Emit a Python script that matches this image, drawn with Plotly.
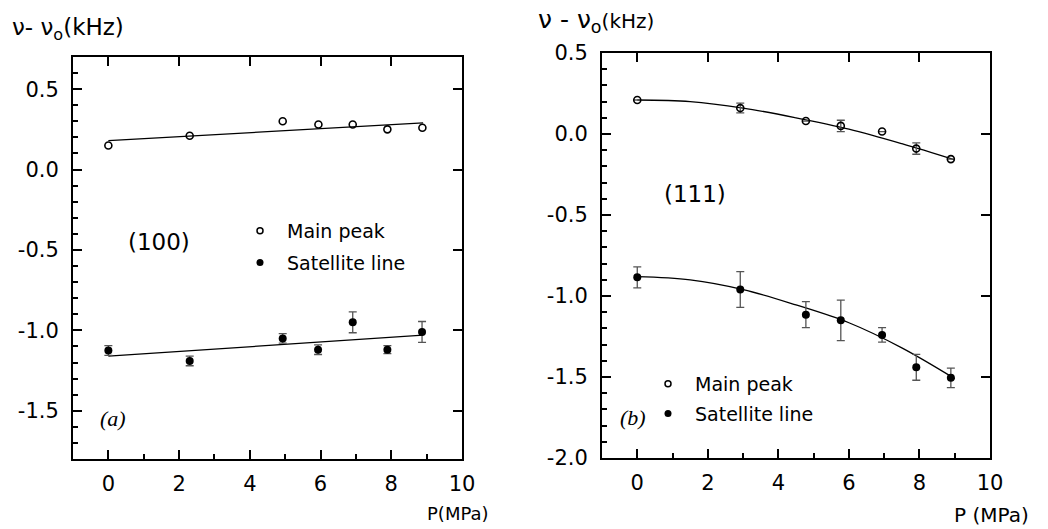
import plotly.graph_objects as go

W, H = 1048, 529

# ---------------- data : panel (a) (100) ----------------
a_main_p = [0.0, 2.3, 4.93, 5.94, 6.91, 7.89, 8.88]
a_main_v = [0.15, 0.21, 0.30, 0.28, 0.28, 0.25, 0.26]
a_sat_p = [0.0, 2.3, 4.93, 5.93, 6.91, 7.89, 8.87]
a_sat_v = [-1.125, -1.19, -1.05, -1.12, -0.95, -1.12, -1.01]
a_sat_err = [0.03, 0.03, 0.03, 0.03, 0.065, 0.025, 0.065]
a_fit_p = [0.0, 8.9]
a_main_fit = [0.18, 0.29]
a_sat_fit = [-1.16, -1.03]

# ---------------- data : panel (b) (111) ----------------
b_main_p = [0.0, 2.92, 4.78, 5.77, 6.94, 7.91, 8.89]
b_main_v = [0.21, 0.16, 0.08, 0.05, 0.015, -0.09, -0.155]
b_main_err = [0.0, 0.03, 0.0, 0.035, 0.0, 0.035, 0.0]
b_sat_p = [0.0, 2.92, 4.78, 5.77, 6.94, 7.91, 8.89]
b_sat_v = [-0.885, -0.96, -1.115, -1.15, -1.24, -1.44, -1.505]
b_sat_err = [0.065, 0.11, 0.08, 0.125, 0.045, 0.08, 0.06]
b_fit_p = [0.0, 1.5, 3.0, 4.5, 6.0, 7.5, 9.0]
b_main_fit = [0.21, 0.20, 0.16, 0.10, 0.03, -0.06, -0.16]
b_sat_fit = [-0.88, -0.90, -0.96, -1.055, -1.165, -1.32, -1.51]

# ---------------- tick labels ----------------
x_ticks = [0, 2, 4, 6, 8, 10]
x_ticktext = ["0", "2", "4", "6", "8", "10"]
a_y_ticks = [0.5, 0.0, -0.5, -1.0, -1.5]
a_y_ticktext = ["0.5", "0.0", "-0.5", "-1.0", "-1.5"]
b_y_ticks = [0.5, 0.0, -0.5, -1.0, -1.5, -2.0]
b_y_ticktext = ["0.5", "0.0", "-0.5", "-1.0", "-1.5", "-2.0"]

FONT = "DejaVu Sans"
TICKFONT = dict(family=FONT, size=21, color="black")

fig = go.Figure()

open_marker = dict(symbol="circle-open", size=7, color="black", line=dict(width=1.6, color="black"))
fill_marker = dict(symbol="circle", size=8, color="black")
err_style = dict(type="data", color="#555555", thickness=1.3, width=4)

# panel a
fig.add_trace(go.Scatter(x=a_fit_p, y=a_main_fit, mode="lines", line=dict(color="black", width=1.3),
                         xaxis="x", yaxis="y", showlegend=False))
fig.add_trace(go.Scatter(x=a_fit_p, y=a_sat_fit, mode="lines", line=dict(color="black", width=1.3),
                         xaxis="x", yaxis="y", showlegend=False))
fig.add_trace(go.Scatter(x=a_main_p, y=a_main_v, mode="markers", marker=open_marker,
                         xaxis="x", yaxis="y", showlegend=False))
fig.add_trace(go.Scatter(x=a_sat_p, y=a_sat_v, mode="markers", marker=fill_marker,
                         error_y=dict(array=a_sat_err, **err_style),
                         xaxis="x", yaxis="y", showlegend=False))
# legend entries panel a
fig.add_trace(go.Scatter(x=[None], y=[None], mode="markers", name="Main peak",
                         marker=dict(symbol="circle-open", size=6, color="black", line=dict(width=1.5)),
                         xaxis="x", yaxis="y", legend="legend", legendgroup="a1"))
fig.add_trace(go.Scatter(x=[None], y=[None], mode="markers", name="Satellite line",
                         marker=dict(symbol="circle", size=7, color="black"),
                         xaxis="x", yaxis="y", legend="legend", legendgroup="a2"))

# panel b
fig.add_trace(go.Scatter(x=b_fit_p, y=b_main_fit, mode="lines", line=dict(color="black", width=1.3, shape="spline"),
                         xaxis="x2", yaxis="y2", showlegend=False))
fig.add_trace(go.Scatter(x=b_fit_p, y=b_sat_fit, mode="lines", line=dict(color="black", width=1.3, shape="spline"),
                         xaxis="x2", yaxis="y2", showlegend=False))
fig.add_trace(go.Scatter(x=b_main_p, y=b_main_v, mode="markers", marker=open_marker,
                         error_y=dict(array=b_main_err, **err_style),
                         xaxis="x2", yaxis="y2", showlegend=False))
fig.add_trace(go.Scatter(x=b_sat_p, y=b_sat_v, mode="markers", marker=fill_marker,
                         error_y=dict(array=b_sat_err, **err_style),
                         xaxis="x2", yaxis="y2", showlegend=False))
fig.add_trace(go.Scatter(x=[None], y=[None], mode="markers", name="Main peak",
                         marker=dict(symbol="circle-open", size=6, color="black", line=dict(width=1.5)),
                         xaxis="x2", yaxis="y2", legend="legend2", legendgroup="b1"))
fig.add_trace(go.Scatter(x=[None], y=[None], mode="markers", name="Satellite line",
                         marker=dict(symbol="circle", size=7, color="black"),
                         xaxis="x2", yaxis="y2", legend="legend2", legendgroup="b2"))

# dummy traces so overlay (top/right) axes are drawn
for xa, ya in [("x3", "y3"), ("x4", "y4")]:
    fig.add_trace(go.Scatter(x=[None], y=[None], xaxis=xa, yaxis=ya, showlegend=False, hoverinfo="skip"))


def px(x):
    return x / W


def py(y):
    return 1 - y / H


a_xdom = [px(73), px(462)]
a_ydom = [py(459), py(57)]
b_xdom = [px(602), px(990)]
b_ydom = [py(458), py(53)]

common_axis = dict(showgrid=False, zeroline=False, showline=True, linecolor="black", linewidth=2,
                   ticks="inside", tickcolor="black", tickwidth=2, ticklen=9, tickfont=TICKFONT,
                   automargin=False)

fig.update_layout(
    width=W, height=H,
    margin=dict(l=0, r=0, t=0, b=0, autoexpand=False),
    paper_bgcolor="white", plot_bgcolor="white",
    showlegend=True,
    xaxis=dict(domain=a_xdom, anchor="y", range=[-1, 10], tickmode="array", tickvals=x_ticks,
               ticktext=x_ticktext, ticklabelstandoff=5,
               minor=dict(dtick=1, tick0=0, ticks="inside", ticklen=5, tickcolor="black", tickwidth=1.5),
               **common_axis),
    yaxis=dict(domain=a_ydom, anchor="x", range=[-1.8, 0.7], tickmode="array", tickvals=a_y_ticks,
               ticktext=a_y_ticktext, ticklabelstandoff=8,
               minor=dict(dtick=0.1, tick0=0, ticks="inside", ticklen=5, tickcolor="black", tickwidth=1.5),
               **common_axis),
    xaxis3=dict(overlaying="x", anchor="y", side="top", matches="x", range=[-1, 10], tickmode="array",
                tickvals=x_ticks, showticklabels=False, **common_axis),
    yaxis3=dict(overlaying="y", anchor="x", side="right", matches="y", range=[-1.8, 0.7], tickmode="array",
                tickvals=a_y_ticks, showticklabels=False, **common_axis),
    xaxis2=dict(domain=b_xdom, anchor="y2", range=[-1, 10], tickmode="array", tickvals=x_ticks,
                ticktext=x_ticktext, ticklabelstandoff=5,
                minor=dict(dtick=1, tick0=0, ticks="inside", ticklen=5, tickcolor="black", tickwidth=1.5),
                **common_axis),
    yaxis2=dict(domain=b_ydom, anchor="x2", range=[-2.0, 0.5], tickmode="array", tickvals=b_y_ticks,
                ticktext=b_y_ticktext, ticklabelstandoff=8,
                minor=dict(dtick=0.1, tick0=0, ticks="inside", ticklen=5, tickcolor="black", tickwidth=1.5),
                **common_axis),
    xaxis4=dict(overlaying="x2", anchor="y2", side="top", matches="x2", range=[-1, 10], tickmode="array",
                tickvals=x_ticks, showticklabels=False, **common_axis),
    yaxis4=dict(overlaying="y2", anchor="x2", side="right", matches="y2", range=[-2.0, 0.5], tickmode="array",
                tickvals=b_y_ticks, showticklabels=False, **common_axis),
    legend=dict(x=px(233), y=py(212), xanchor="left", yanchor="top", bgcolor="rgba(0,0,0,0)",
                font=dict(family=FONT, size=19, color="black"), traceorder="grouped", tracegroupgap=4,
                itemwidth=44),
    legend2=dict(x=px(641), y=py(365), xanchor="left", yanchor="top", bgcolor="rgba(0,0,0,0)",
                 font=dict(family=FONT, size=19, color="black"), traceorder="grouped", tracegroupgap=2,
                 itemwidth=44),
)

ann = []
ann.append(dict(text="ν- ν<sub>o</sub>(kHz)", x=px(10), y=py(29), xanchor="left", yanchor="middle",
                font=dict(family=FONT, size=23, color="black")))
ann.append(dict(text="ν - ν<sub>o</sub><span style='font-size:20px'>(kHz)</span>", x=px(536), y=py(21),
                xanchor="left", yanchor="middle", font=dict(family=FONT, size=25, color="black")))
ann.append(dict(text="(100)", x=px(159), y=py(242), xanchor="center", yanchor="middle",
                font=dict(family=FONT, size=23, color="black")))
ann.append(dict(text="(111)", x=px(695), y=py(194), xanchor="center", yanchor="middle",
                font=dict(family=FONT, size=23, color="black")))
ann.append(dict(text="<i>(a)</i>", x=px(113), y=py(418), xanchor="center", yanchor="middle",
                font=dict(family="Liberation Serif", size=22, color="black")))
ann.append(dict(text="<i>(b)</i>", x=px(633), y=py(417), xanchor="center", yanchor="middle",
                font=dict(family="Liberation Serif", size=22, color="black")))
ann.append(dict(text="P(MPa)", x=px(458), y=py(513), xanchor="center", yanchor="middle",
                font=dict(family=FONT, size=18, color="black")))
ann.append(dict(text="P (MPa)", x=px(991), y=py(515), xanchor="center", yanchor="middle",
                font=dict(family=FONT, size=20, color="black")))
for a in ann:
    a.update(xref="paper", yref="paper", showarrow=False)
fig.update_layout(annotations=ann)

fig.write_html("out.html", config={"displayModeBar": False},
               post_script="document.body.style.margin='0';")
